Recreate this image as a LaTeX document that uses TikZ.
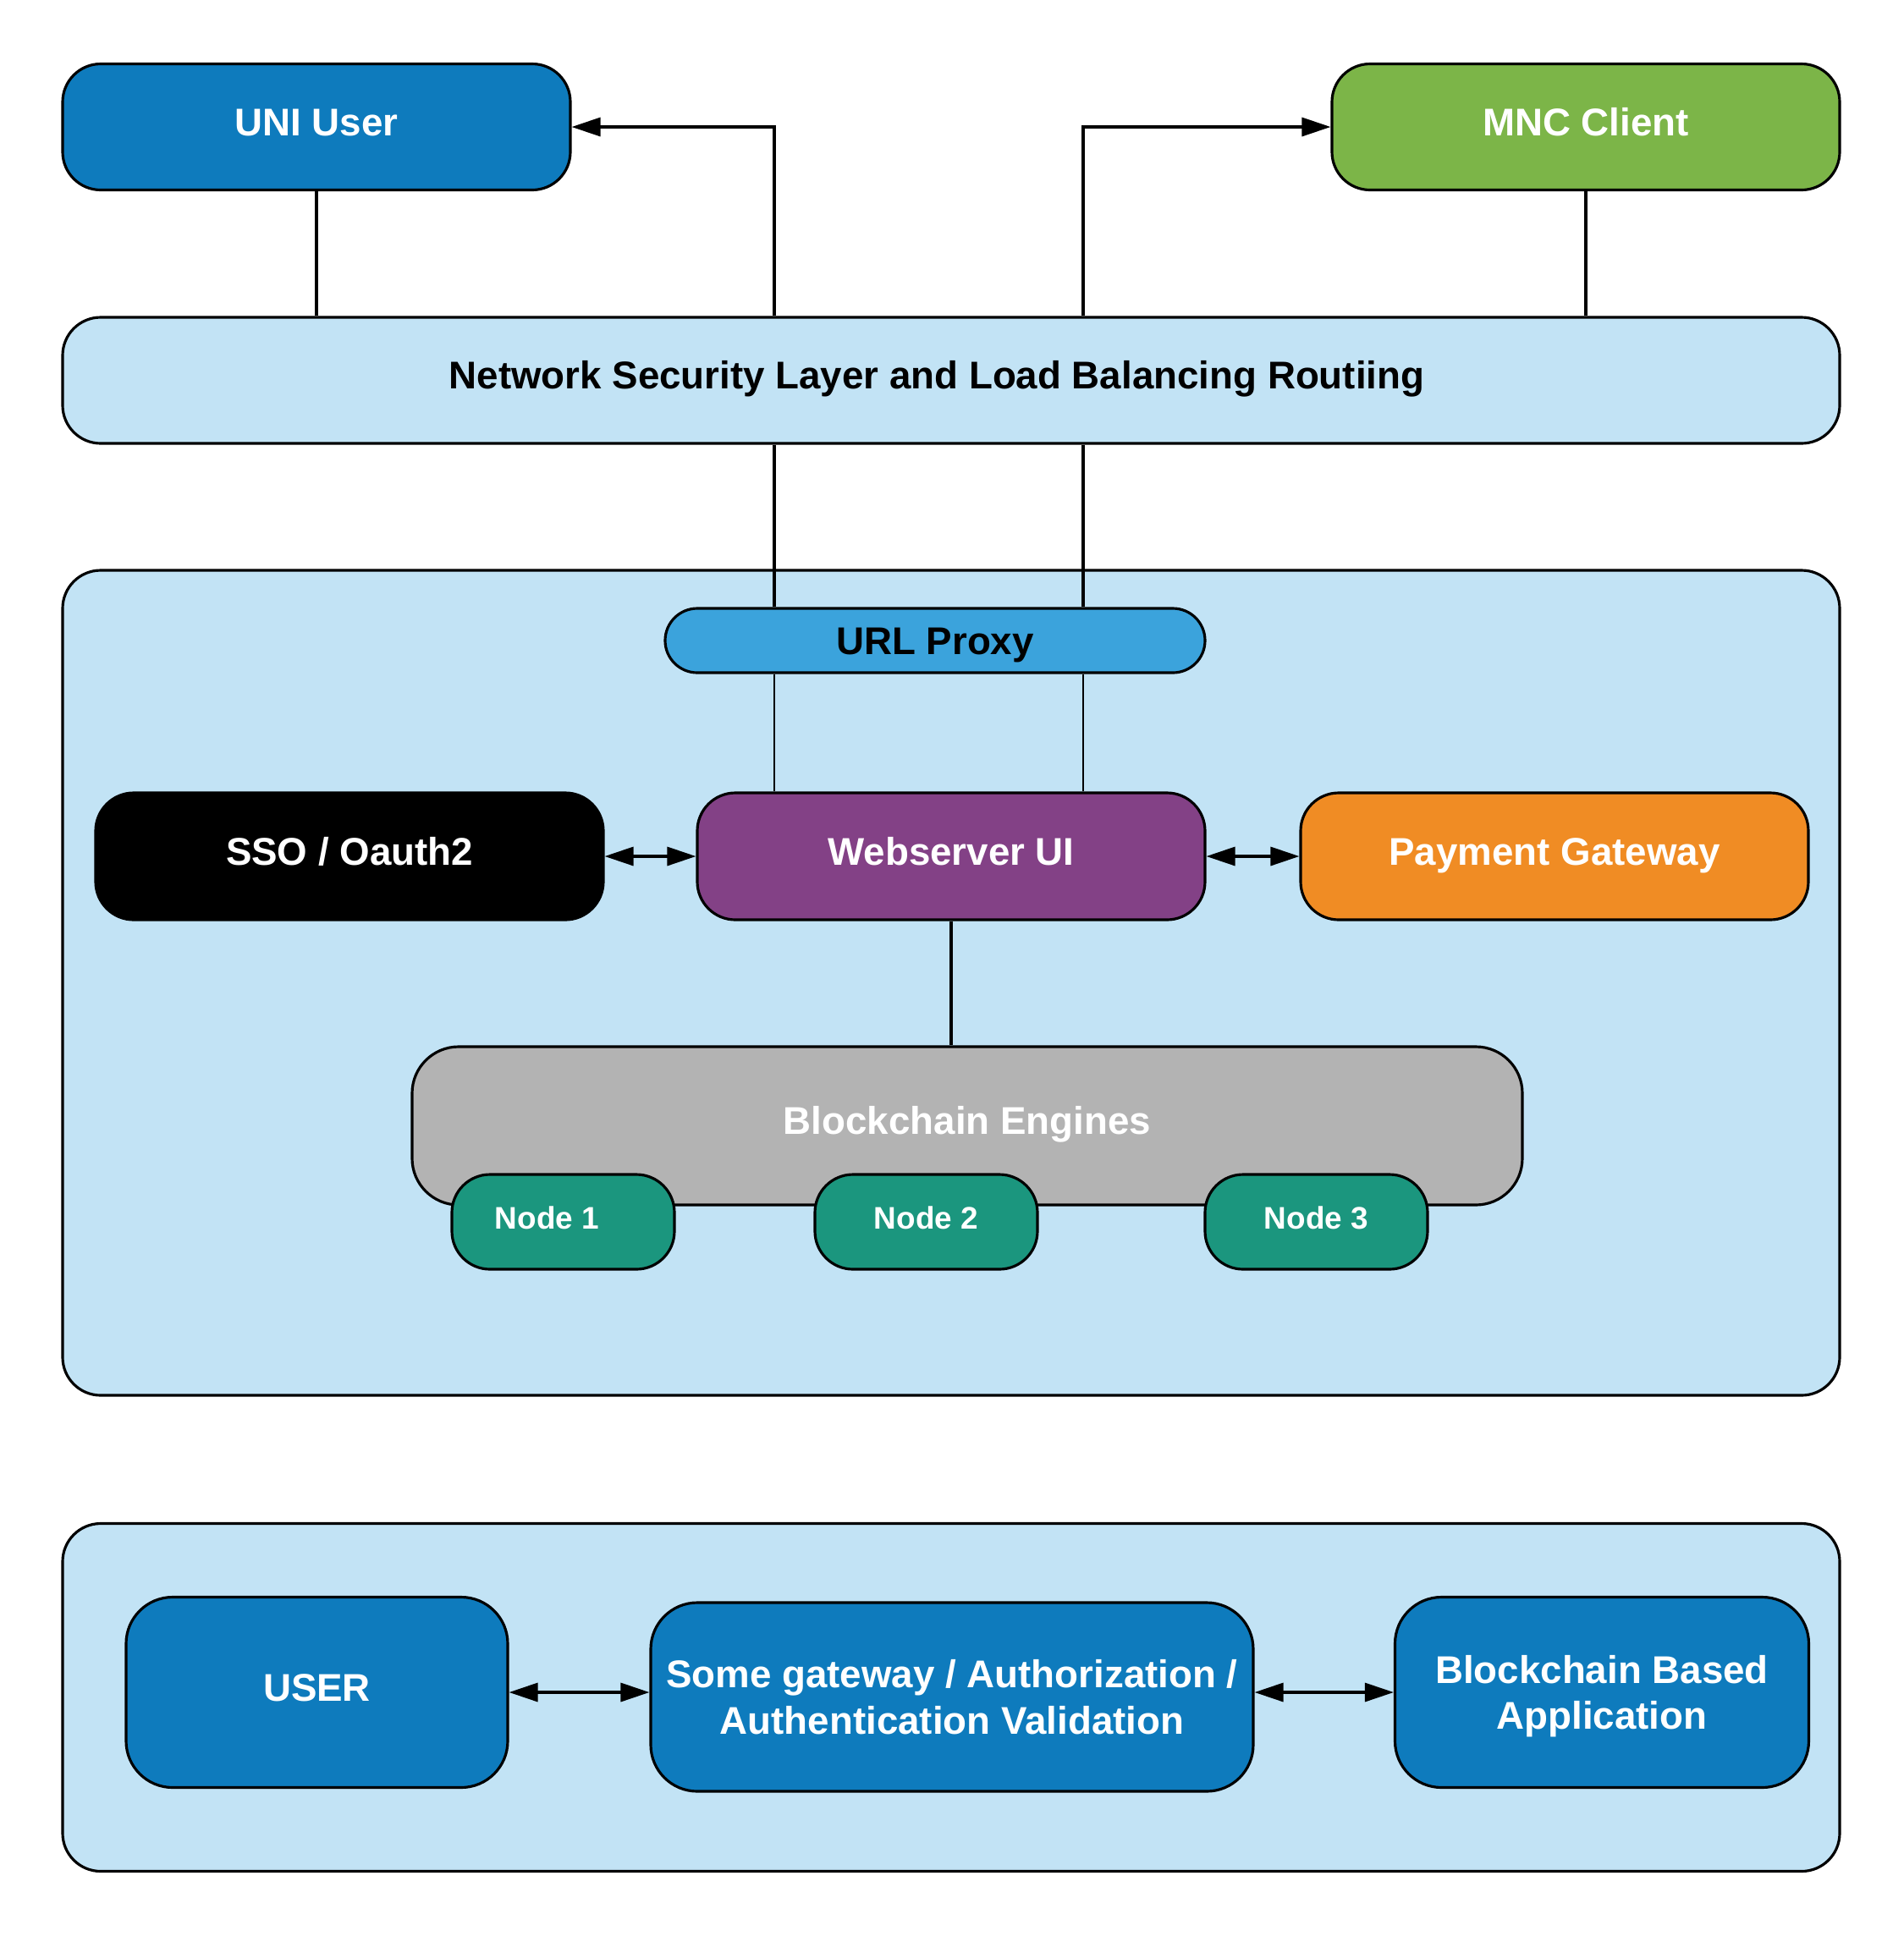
\documentclass[tikz,border=0pt]{standalone}
\usepackage{fontspec}
\setmainfont{Liberation Sans}
\usetikzlibrary{positioning,arrows.meta}
\definecolor{uniblue}{HTML}{0E7BBD}
\definecolor{mncgreen}{HTML}{7CB548}
\definecolor{layerblue}{HTML}{C2E3F5}
\definecolor{proxyblue}{HTML}{3BA3DC}
\definecolor{webpurple}{HTML}{834186}
\definecolor{payorange}{HTML}{F08C24}
\definecolor{enginegray}{HTML}{B3B3B3}
\definecolor{nodeteal}{HTML}{1B967E}
\tikzset{
	>={Triangle[length=3.4mm,width=2.2mm]},
	box/.style={draw=black, line width=0.9pt, rounded corners=4.5mm, inner sep=0pt,
		align=center, text=white, font=\fontsize{13}{15.5}\selectfont\bfseries},
	oneline/.style={box, text height=9.3pt, text depth=3.4pt},
	wide/.style={oneline, minimum width=21cm},
	tile/.style={oneline, minimum width=6cm, minimum height=1.5cm},
	chain/.style={box, fill=nodeteal, minimum width=2.63cm, minimum height=1.12cm,
		font=\fontsize{10.5}{12}\selectfont\bfseries, text height=7.5pt, text depth=2.8pt},
	app/.style={box, fill=uniblue, minimum height=2.25cm, rounded corners=5.5mm},
	link/.style={line width=0.9pt},
	arr/.style={link, ->},
	dbl/.style={link, <->},
}
\begin{document}
\begin{tikzpicture}
	\useasboundingbox (0,0) rectangle (22.5,-22.88);
	% containers
	\node[wide, fill=layerblue, minimum height=9.75cm] (core) at (11.24,-11.615) {};
	\node[wide, fill=layerblue, minimum height=4.11cm] (flow) at (11.24,-20.06) {};
	% access
	\node[tile, fill=uniblue, minimum height=1.49cm] (uni) at (3.74,-1.50) {UNI User};
	\node[tile, fill=mncgreen, minimum height=1.49cm] (mnc) at (18.74,-1.50) {MNC Client};
	\node[wide, fill=layerblue, minimum height=1.49cm, text=black] (net) at (11.24,-4.495)
		{\hspace*{-3.4mm}Network Security Layer and Load Balancing Routiing};
	% core services
	\node[oneline, fill=proxyblue, text=black, minimum width=6.38cm, minimum height=0.76cm,
		rounded corners=3.8mm, text depth=0pt] (proxy) at (11.05,-7.57) {URL Proxy};
	\node[tile, fill=black] (sso) at (4.13,-10.12) {SSO / Oauth2};
	\node[tile, fill=webpurple] (web) at (11.24,-10.12) {Webserver UI};
	\node[tile, fill=payorange] (pay) at (18.37,-10.12) {Payment Gateway};
	\node[oneline, fill=enginegray, minimum width=13.12cm, minimum height=1.87cm,
		rounded corners=5.5mm] (engines) at (11.43,-13.305) {Blockchain Engines};
	\node[chain] (n1) at (6.655,-14.44) {\hspace*{-3.8mm}Node 1};
	\node[chain] (n2) at (10.945,-14.44) {Node 2};
	\node[chain] (n3) at (15.555,-14.44) {Node 3};
	% application flow
	\node[app, minimum width=4.51cm, text height=9.3pt, text depth=3.4pt] (user) at (3.745,-20.00) {USER};
	\node[app, minimum width=7.12cm, minimum height=2.23cm] (gate) at (11.25,-20.055)
		{Some gateway / Authorization /\\Authentication Validation};
	\node[app, minimum width=4.89cm, text depth=-2.5pt] (bapp) at (18.93,-20.00)
		{Blockchain Based\\Application};
	% connectors
	\coordinate (lx) at (9.15,0);
	\coordinate (rx) at (12.80,0);
	\draw[arr] (net.north -| lx) |- (uni.east);
	\draw[arr] (net.north -| rx) |- (mnc.west);
	\draw[link] (uni.south) -- (uni.south |- net.north);
	\draw[link] (mnc.south) -- (mnc.south |- net.north);
	\draw[link] (net.south -| lx) -- (proxy.north -| lx);
	\draw[link] (net.south -| rx) -- (proxy.north -| rx);
	\draw[line width=0.6pt] (proxy.south -| lx) -- (web.north -| lx);
	\draw[line width=0.6pt] (proxy.south -| rx) -- (web.north -| rx);
	\draw[dbl] (sso) -- (web);
	\draw[dbl] (web) -- (pay);
	\draw[link] (web.south) -- (web.south |- engines.north);
	\draw[dbl] (user.east) -- (user.east -| gate.west);
	\draw[dbl] (bapp.west -| gate.east) -- (bapp.west);
\end{tikzpicture}
\end{document}
